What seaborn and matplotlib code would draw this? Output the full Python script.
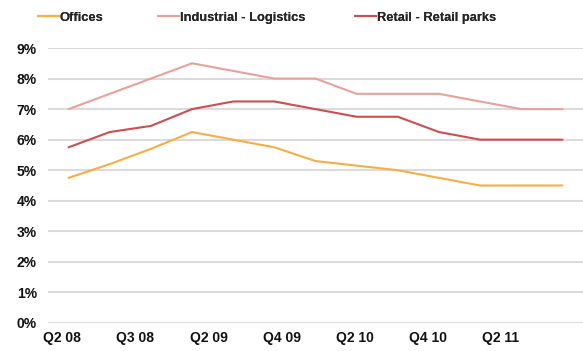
import matplotlib
matplotlib.use("Agg")
import matplotlib.pyplot as plt
import seaborn as sns
import pandas as pd
import numpy as np

quarters = ["Q2 08", "Q3 08", "Q4 08", "Q1 09", "Q2 09", "Q3 09", "Q4 09",
            "Q1 10", "Q2 10", "Q3 10", "Q4 10", "Q1 11", "Q2 11"]
offices = [4.75, 5.2, 5.7, 6.25, 6.0, 5.75, 5.3, 5.15, 5.0, 4.75, 4.5, 4.5, 4.5]
industrial = [7.0, 7.5, 8.0, 8.5, 8.25, 8.0, 8.0, 7.5, 7.5, 7.5, 7.25, 7.0, 7.0]
retail = [5.75, 6.25, 6.45, 7.0, 7.25, 7.25, 7.0, 6.75, 6.75, 6.25, 6.0, 6.0, 6.0]
series_names = ["Offices", "Industrial - Logistics", "Retail - Retail parks"]
colors = ["#F6AE45", "#E8A19B", "#CD4E4F"]
xtick_labels = ["Q2 08", "Q3 08", "Q2 09", "Q4 09", "Q2 10", "Q4 10", "Q2 11"]
ytick_values = list(range(0, 10))

sns.set_theme(style="white")
plt.rcParams["font.family"] = ["Liberation Sans", "DejaVu Sans"]

rows = []
for name, vals in zip(series_names, [offices, industrial, retail]):
    for i, v in enumerate(vals):
        rows.append({"idx": i, "quarter": quarters[i], "value": v, "series": name})
df = pd.DataFrame(rows)

fig = plt.figure(figsize=(5.83, 3.51), dpi=100)
ax = fig.add_axes([48 / 583, 1 - 323 / 351, (583 - 48) / 583, (323 - 48) / 351])

sns.lineplot(data=df, x="idx", y="value", hue="series", palette=colors,
             hue_order=series_names, linewidth=1.5, ax=ax, legend=False)

ax.set_xlim(-0.5, 12.5)
ax.set_ylim(0, 9)
ax.set_yticks(ytick_values)
ax.set_yticklabels([f"{v}%" for v in ytick_values], fontsize=10, fontweight="bold", color="#111111")
ax.set_xticks(np.linspace(-0.15, 10.5, len(xtick_labels)))
ax.set_xticklabels(xtick_labels, fontsize=10, fontweight="bold", color="#111111")
ax.tick_params(axis="x", length=0, pad=6)
ax.tick_params(axis="y", length=0, pad=8)
ax.set_xlabel("")
ax.set_ylabel("")
ax.grid(axis="y", color="#DCDADA", linewidth=1.5)
ax.grid(axis="x", visible=False)
ax.set_axisbelow(True)
for s in ax.spines.values():
    s.set_visible(False)

legend_x = [38, 158, 355]
for name, c, lx in zip(series_names, colors, legend_x):
    h = plt.Line2D([], [], color=c, linewidth=1.5)
    lg = fig.legend([h], [name], loc="center left", bbox_to_anchor=(lx / 583, 1 - 18 / 351),
                    frameon=False, handlelength=1.6, handletextpad=0.1,
                    prop={"size": 9.3, "weight": "bold"}, borderaxespad=0, borderpad=0)
    fig.add_artist(lg)

fig.savefig("out.png", dpi=100)
